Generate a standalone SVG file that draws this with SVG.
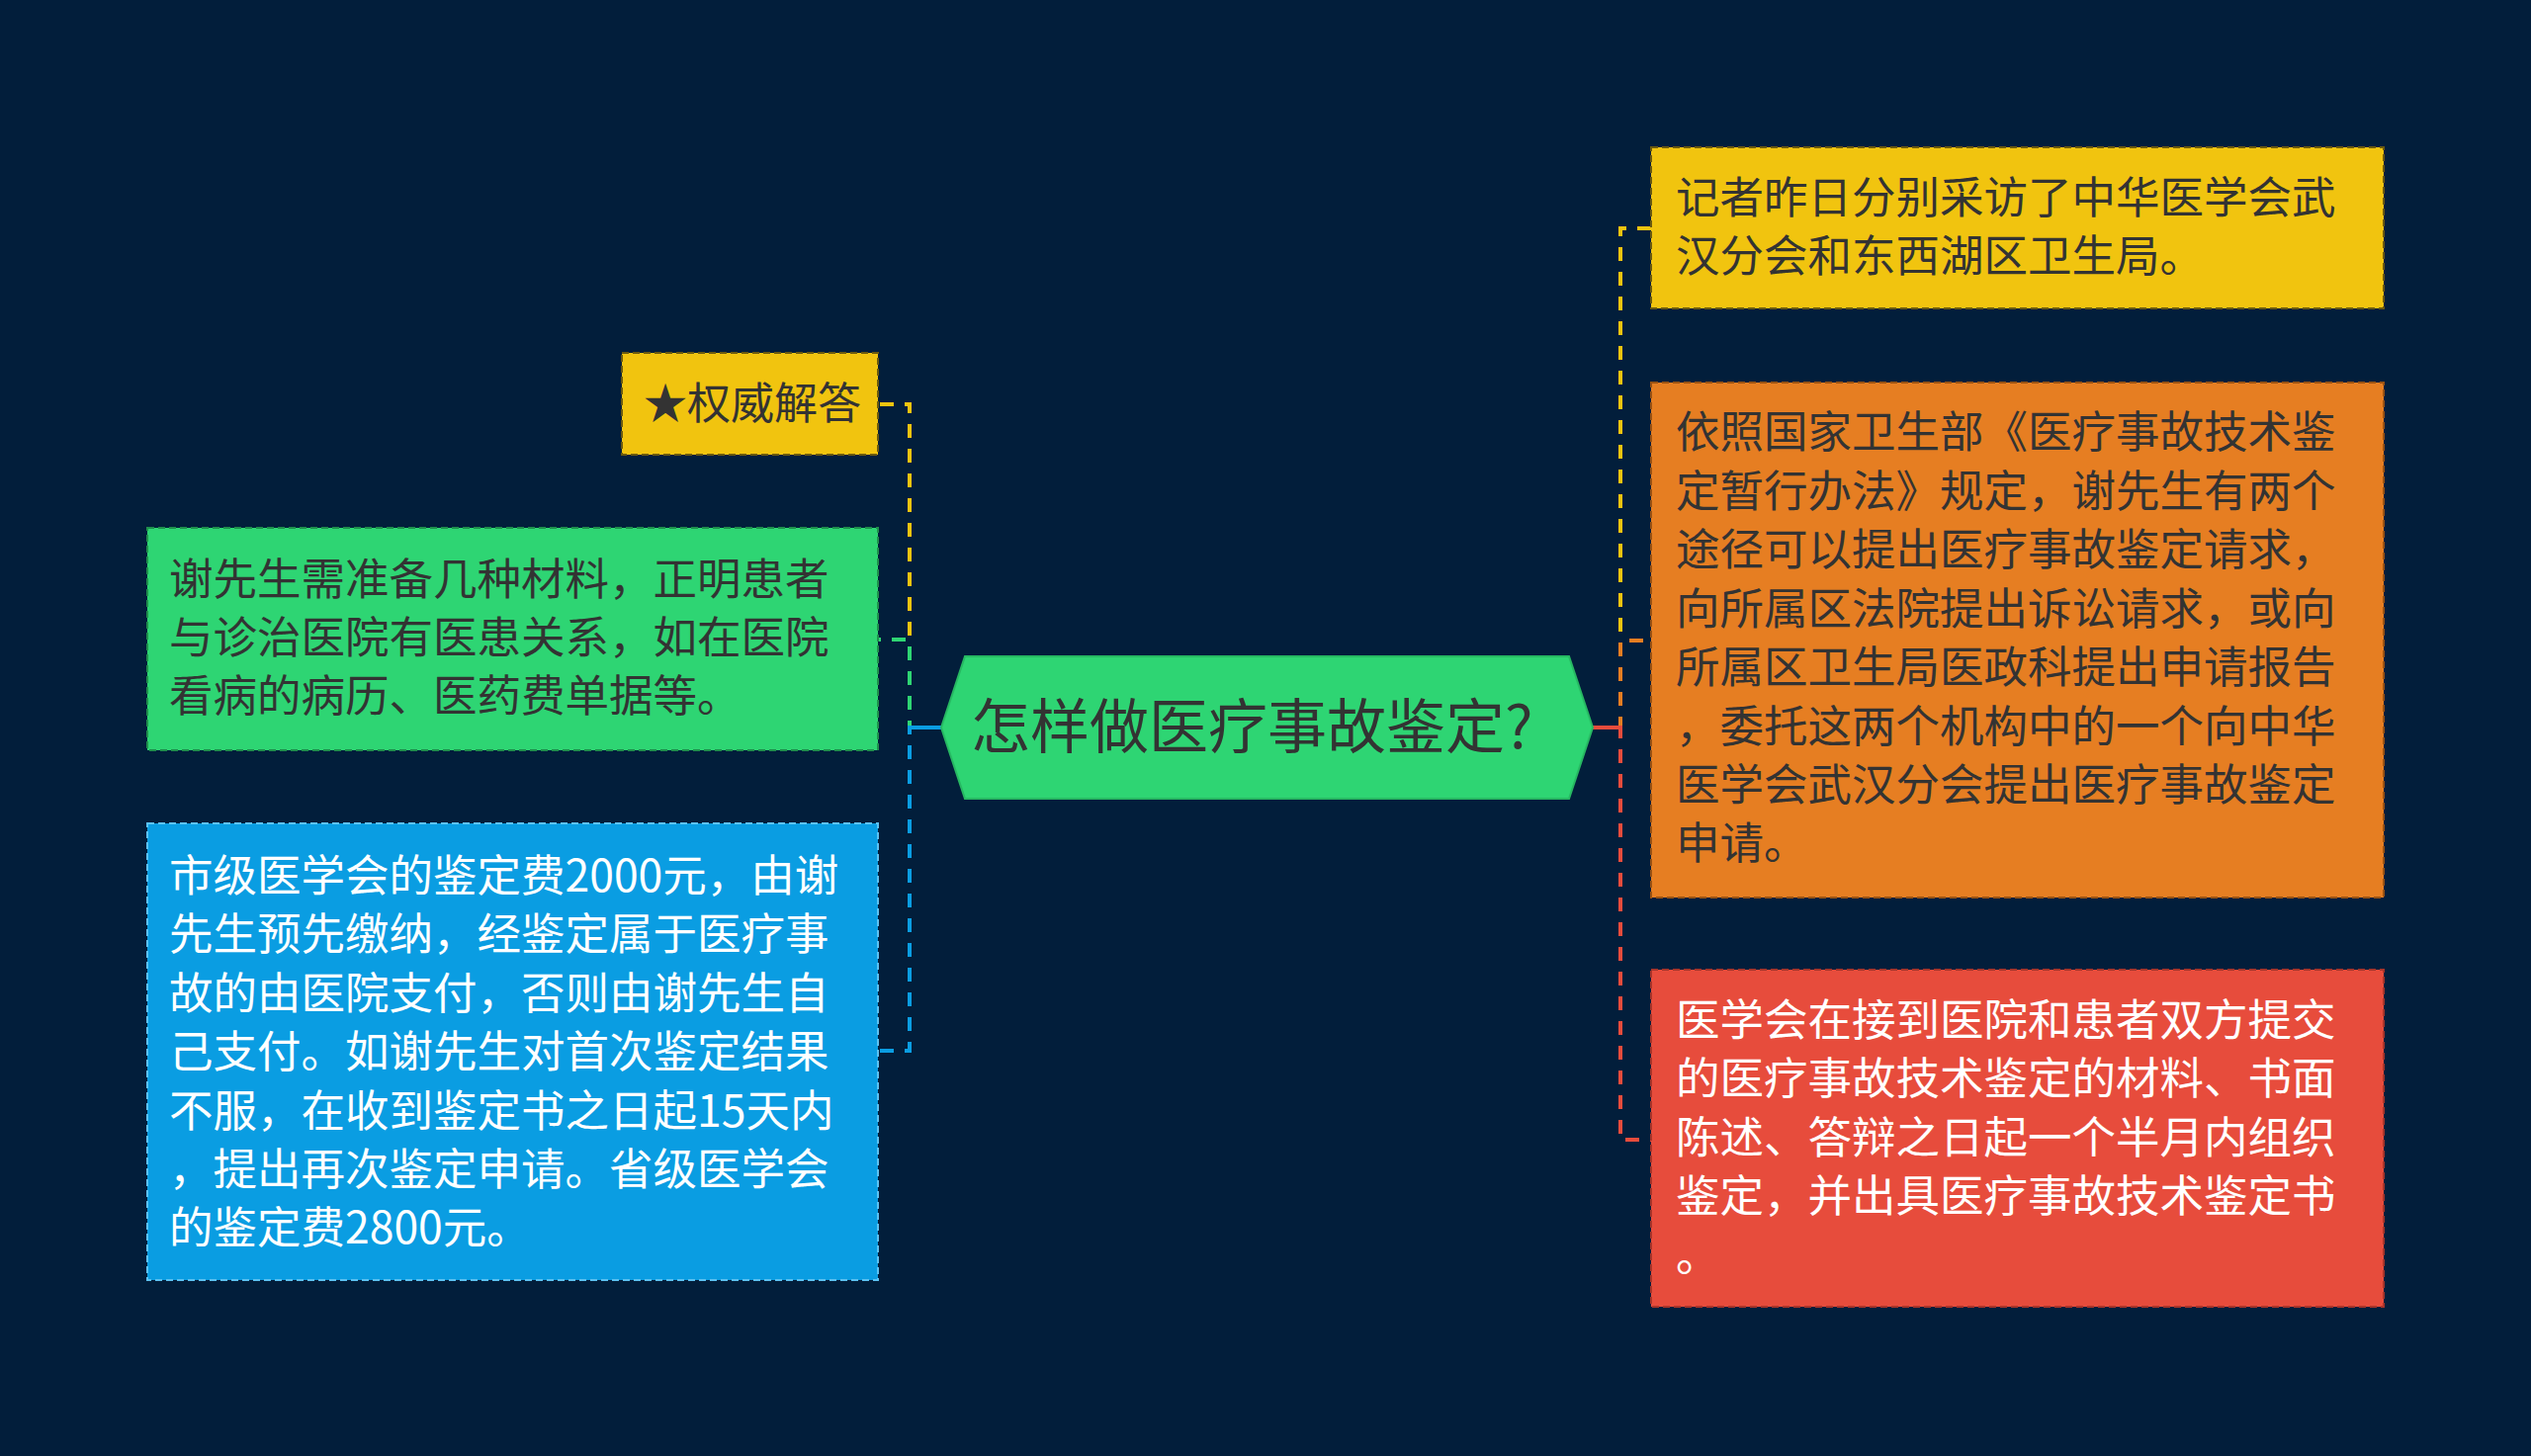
<svg xmlns="http://www.w3.org/2000/svg" width="2560" height="1473" viewBox="0 0 2560 1473">
<style>
.t{font-family:"Noto Sans CJK SC","Noto Sans",sans-serif;font-size:44.5px}
.dk{fill:#333333}
.wh{fill:#ffffff}
.box{stroke-width:2;stroke-dasharray:7 4}
.con{fill:none;stroke-width:4;stroke-dasharray:14 11}
</style>
<rect width="2560" height="1473" fill="#021e3b"/>
<g id="connectors">
<path class="con" stroke="#f1c40f" d="M952,736 H920 V409 H888"/>
<path class="con" stroke="#2ed573" d="M952,736 H920 V647 H888"/>
<path class="con" stroke="#0a9de2" d="M952,736 H920 V1063 H888"/>
<line x1="920" y1="736" x2="952" y2="736" stroke="#0a9de2" stroke-width="4"/>
<path class="con" stroke="#f1c40f" d="M1611,736 H1639 V231 H1670"/>
<path class="con" stroke="#e67e22" d="M1611,736 H1639 V648 H1670"/>
<path class="con" stroke="#e74c3c" d="M1611,736 H1639 V1153 H1670"/>
<line x1="1611" y1="736" x2="1639" y2="736" stroke="#e74c3c" stroke-width="4"/>
</g>
<g id="root">
<polygon points="952,736 976,664 1587,664 1611,736 1587,808 976,808" fill="#2ed573" stroke="#27b862" stroke-width="2"/>
<text class="t dk" x="982" y="757" style="font-size:60px">怎样做医疗事故鉴定?</text>
</g>
<g id="n-quanwei">
<rect class="box" x="629" y="357" width="259" height="103" fill="#f1c40f" stroke="#6b5a10"/>
<text class="t dk" x="651" y="424" style="font-size:44px">★权威解答</text>
</g>
<g id="n-cailiao">
<rect class="box" x="149" y="534" width="739" height="225" fill="#2ed573" stroke="#1f8f4c"/>
<text class="t dk" x="171" y="602">谢先生需准备几种材料，正明患者</text>
<text class="t dk" x="171" y="661">与诊治医院有医患关系，如在医院</text>
<text class="t dk" x="171" y="720">看病的病历、医药费单据等。</text>
</g>
<g id="n-feiyong">
<rect class="box" x="149" y="833" width="739" height="462" fill="#0a9de2" stroke="#5cc2f2"/>
<text class="t wh" x="171" y="902">市级医学会的鉴定费2000元，由谢</text>
<text class="t wh" x="171" y="961">先生预先缴纳，经鉴定属于医疗事</text>
<text class="t wh" x="171" y="1021">故的由医院支付，否则由谢先生自</text>
<text class="t wh" x="171" y="1080">己支付。如谢先生对首次鉴定结果</text>
<text class="t wh" x="171" y="1140">不服，在收到鉴定书之日起15天内</text>
<text class="t wh" x="171" y="1199">，提出再次鉴定申请。省级医学会</text>
<text class="t wh" x="171" y="1258">的鉴定费2800元。</text>
</g>
<g id="n-jizhe">
<rect class="box" x="1670" y="149" width="741" height="163" fill="#f1c40f" stroke="#6b5a10"/>
<text class="t dk" x="1695" y="216">记者昨日分别采访了中华医学会武</text>
<text class="t dk" x="1695" y="275">汉分会和东西湖区卫生局。</text>
</g>
<g id="n-tujing">
<rect class="box" x="1670" y="387" width="741" height="521" fill="#e67e22" stroke="#9a5213"/>
<text class="t dk" x="1695" y="453">依照国家卫生部《医疗事故技术鉴</text>
<text class="t dk" x="1695" y="513">定暂行办法》规定，谢先生有两个</text>
<text class="t dk" x="1695" y="572">途径可以提出医疗事故鉴定请求，</text>
<text class="t dk" x="1695" y="632">向所属区法院提出诉讼请求，或向</text>
<text class="t dk" x="1695" y="691">所属区卫生局医政科提出申请报告</text>
<text class="t dk" x="1695" y="751">，委托这两个机构中的一个向中华</text>
<text class="t dk" x="1695" y="810">医学会武汉分会提出医疗事故鉴定</text>
<text class="t dk" x="1695" y="869">申请。</text>
</g>
<g id="n-zuzhi">
<rect class="box" x="1670" y="981" width="741" height="341" fill="#e74c3c" stroke="#a8342a"/>
<text class="t wh" x="1695" y="1048">医学会在接到医院和患者双方提交</text>
<text class="t wh" x="1695" y="1107">的医疗事故技术鉴定的材料、书面</text>
<text class="t wh" x="1695" y="1167">陈述、答辩之日起一个半月内组织</text>
<text class="t wh" x="1695" y="1226">鉴定，并出具医疗事故技术鉴定书</text>
<text class="t wh" x="1695" y="1286">。</text>
</g>
</svg>
